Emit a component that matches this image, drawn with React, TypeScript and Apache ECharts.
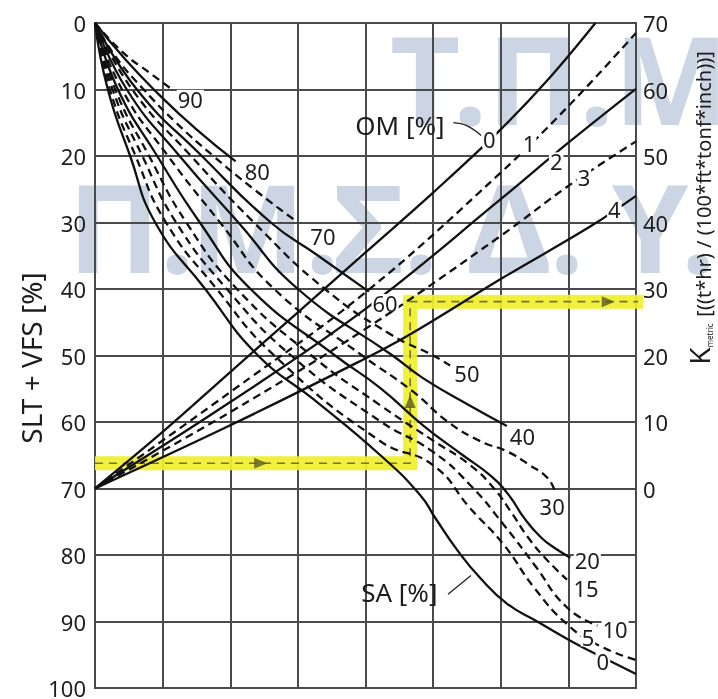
import React, { useEffect, useRef } from 'react';
import * as echarts from 'echarts';

// ---- SA curves (x: grid column 0..8, y: SLT+VFS %) ----
const SA_NAMES = ['90', '80', '70', '60', '50', '40', '30', '20', '15', '10', '5', '0'];
const SA_DASHED = [true, false, true, false, true, false, true, false, true, true, true, false];
const SA90 = [[0, 0], [0.42, 4.5], [0.81, 7.5], [1.14, 10]];
const SA80 = [[0, 0], [0.45, 5.5], [0.92, 10.5], [1.5, 16], [2.08, 20.8]];
const SA70 = [[0, 0], [0.3, 5], [0.72, 10], [1.2, 15], [1.75, 20], [2.35, 25], [3.0, 30]];
const SA60 = [[0, 0], [0.62, 10], [1.58, 20], [2.6, 30], [3.3, 35], [4.05, 40.4]];
const SA50 = [[0, 0], [0.55, 10], [1.42, 20], [2.35, 30], [3.4, 40], [4.4, 47], [5.0, 50], [5.25, 51.5]];
const SA40 = [[0, 0], [0.47, 10], [1.25, 20], [2.12, 30], [3.0, 40], [4.4, 50], [4.85, 53.4], [5.5, 57.3], [6.09, 60.6]];
const SA30 = [[0, 0], [0.4, 10], [1.08, 20], [1.85, 30], [2.65, 40], [3.95, 50], [4.7, 55.4], [5.21, 59.9], [5.7, 62.9], [6.09, 64.4], [6.43, 66.5], [6.69, 68.4], [6.8, 70.4]];
const SA20 = [[0, 0], [0.34, 10], [0.92, 20], [1.55, 30], [2.3, 40], [3.55, 50], [4.22, 54.9], [4.85, 60.5], [5.44, 65], [5.84, 68], [6.12, 71], [6.35, 74.5], [6.6, 77.4], [6.82, 79.1], [7.03, 80.4]];
const SA15 = [[0, 0], [0.3, 10], [0.8, 20], [1.35, 30], [2.1, 40], [3.2, 50], [4.22, 57.5], [5.0, 62.8], [5.55, 66.5], [5.9, 70], [6.15, 73.5], [6.4, 77.3], [6.68, 80.7], [6.98, 83.7]];
const SA10 = [[0, 0], [0.26, 10], [0.7, 20], [1.2, 30], [1.95, 40], [2.9, 50], [4.22, 59.9], [5.0, 64.5], [5.55, 69.5], [6.04, 75.4], [6.5, 81.5], [6.98, 87.9], [7.43, 90.6]];
const SA5 = [[0, 0], [0.22, 10], [0.6, 20], [1.05, 30], [1.8, 40], [2.65, 50], [4.22, 62.9], [5.0, 66.5], [5.55, 73], [6.04, 78.4], [6.5, 85], [6.98, 90.4], [7.43, 93.5], [8, 95.8]];
const SA0 = [[0, 0], [0.19, 10], [0.52, 20], [0.89, 30], [1.63, 40], [2.41, 50], [3.22, 56.5], [4.22, 65], [4.81, 71], [5.03, 74.4], [5.36, 79.3], [5.7, 83.5], [6.09, 87.3], [6.54, 90], [7.03, 92.9], [7.43, 95], [8, 97.9]];
const SA_CURVES = [SA90, SA80, SA70, SA60, SA50, SA40, SA30, SA20, SA15, SA10, SA5, SA0];

// ---- OM curves ----
const OM_NAMES = ['0', '1', '2', '3', '4'];
const OM_DASHED = [false, true, false, true, false];
const OM0 = [[0, 70], [1, 61.5], [2, 52.5], [3, 43.5], [4, 34.5], [5, 25.5], [6, 16], [6.7, 8.5], [7.4, 0]];
const OM1 = [[0, 70], [2, 55.5], [4, 40.5], [6, 22.5], [7, 12.5], [8, 1.5]];
const OM2 = [[0, 70], [2, 57], [4, 43], [6, 26.5], [7, 18], [8, 9.9]];
const OM3 = [[0, 70], [2, 58.5], [4, 46], [6, 32], [7, 24.5], [8, 17.8]];
const OM4 = [[0, 70], [2, 60.5], [3.89, 51], [4.63, 47], [6, 38.5], [7.34, 30.5], [8, 26]];
const OM_CURVES = [OM0, OM1, OM2, OM3, OM4];

// ---- labels on the curves ----
const SA_LABEL_POS = [[1.41, 11.4], [2.4, 22.3], [3.37, 32.0], [4.29, 42.1], [5.5, 52.7], [6.32, 62.1], [6.76, 72.6], [7.28, 80.7], [7.26, 85.0], [7.69, 91.2], [7.29, 92.4], [7.51, 96.0]];
const OM_LABEL_POS = [[5.83, 17.4], [6.42, 18.1], [6.82, 20.8], [7.23, 23.2], [7.68, 28.0]];
const GROUP_TITLES = [{ text: 'OM [%]', pos: [4.51, 15.4] }, { text: 'SA [%]', pos: [4.5, 85.6] }];
const OM_LEADER = [[5.3, 14.97], [5.49, 15.4], [5.71, 16.9]];
const SA_LEADER = [[5.22, 85.9], [5.56, 83.1]];

// ---- example reading path (highlight) ----
const HIGHLIGHT_PATH = [[0, 66.2], [4.66, 66.2], [4.66, 41.9], [8.77, 41.9]];
const ARROWS = [[2.45, 66.2, -90], [4.66, 56.9, 0], [7.59, 41.9, -90]];

// ---- watermark pieces ----
const WM_LINE1 = 'Τ.Π.Μ';
const WM_LINE2 = ['Π.', 'Μ.', 'Σ.', 'Δ.', 'Υ.'];
const WM_LINE2_X = [68, 190, 333, 468, 612];

// ---- axes ----
const LEFT_MIN = 0, LEFT_MAX = 100, LEFT_STEP = 10;
const RIGHT_MIN = -30, RIGHT_MAX = 70;
const X_MAX = 8;

const FONT = '"Noto Sans", "DejaVu Sans", sans-serif';
const INK = '#1e1c1c';
const GRID = '#4a4a4a';
const WATERMARK = '#cbd5e3';
const WM_FONT = 'bold 122px "Noto Sans", sans-serif';

export default function App() {
  const ref = useRef<HTMLDivElement>(null);
  useEffect(() => {
    if (!ref.current) return;
    const chart = echarts.init(ref.current, undefined, { renderer: 'svg' });

    const curveSeries: any[] = [];
    SA_CURVES.forEach((d, i) => {
      curveSeries.push({
        type: 'line', name: 'SA ' + SA_NAMES[i], data: d, showSymbol: false, symbol: 'none',
        smooth: 0.5, z: 5, silent: true,
        lineStyle: { color: '#111', width: 2.3, type: SA_DASHED[i] ? [8, 5] : 'solid' },
      });
    });
    OM_CURVES.forEach((d, i) => {
      curveSeries.push({
        type: 'line', name: 'OM ' + OM_NAMES[i], data: d, showSymbol: false, symbol: 'none',
        smooth: 0.4, z: 5, silent: true,
        lineStyle: { color: '#111', width: 2.3, type: OM_DASHED[i] ? [8, 5] : 'solid' },
      });
    });

    const labelData: any[] = [];
    SA_NAMES.forEach((n, i) => labelData.push({ value: SA_LABEL_POS[i], name: n }));
    OM_NAMES.forEach((n, i) => labelData.push({ value: OM_LABEL_POS[i], name: n }));
    GROUP_TITLES.forEach((t) => labelData.push({
      value: t.pos, name: t.text,
      label: { fontSize: 26, backgroundColor: 'transparent', padding: 0 },
    }));

    const wmStyle = (text: string) => ({
      text, font: WM_FONT, fill: WATERMARK,
      textAlign: 'left', textVerticalAlign: 'middle', align: 'left', verticalAlign: 'middle',
    });
    const watermark: any[] = [
      { type: 'text', x: 390, y: 78, z: -10, silent: true, style: wmStyle(WM_LINE1) },
      ...WM_LINE2.map((t, i) => ({ type: 'text', x: WM_LINE2_X[i], y: 226, z: -10, silent: true, style: wmStyle(t) })),
    ];

    chart.setOption({
      animation: false,
      textStyle: { fontFamily: FONT },
      grid: { left: 95, right: 82, top: 23, bottom: 8, show: true, borderColor: GRID, borderWidth: 2 },
      xAxis: {
        type: 'value', min: 0, max: X_MAX, interval: 1,
        axisLabel: { show: false }, axisTick: { show: false }, axisLine: { show: false },
        splitLine: { show: true, lineStyle: { color: GRID, width: 2 } },
      },
      yAxis: [
        {
          type: 'value', inverse: true, min: LEFT_MIN, max: LEFT_MAX, interval: LEFT_STEP,
          axisLabel: { fontSize: 22, color: INK, margin: 9, fontFamily: FONT },
          axisTick: { show: false }, axisLine: { show: false },
          splitLine: { show: true, lineStyle: { color: GRID, width: 2 } },
        },
        {
          type: 'value', position: 'right', min: RIGHT_MIN, max: RIGHT_MAX, interval: 10,
          axisLabel: {
            fontSize: 22, color: INK, margin: 7, fontFamily: FONT,
            formatter: (v: number) => (v < 0 ? '' : String(v)),
          },
          axisTick: { show: false }, axisLine: { show: false }, splitLine: { show: false },
        },
      ],
      graphic: [
        ...watermark,
        {
          type: 'text', x: 31, y: 358, rotation: Math.PI / 2, silent: true,
          style: { text: 'SLT + VFS [%]', font: '28px "Noto Sans", sans-serif', fill: INK, textAlign: 'center', textVerticalAlign: 'middle', align: 'center', verticalAlign: 'middle' },
        },
        {
          type: 'text', x: 698, y: 208, rotation: Math.PI / 2, silent: true,
          style: {
            text: '{k|K}{s|metric}  {m|[((t*hr) / (100*ft*tonf*inch))]}',
            fill: INK, textAlign: 'center', textVerticalAlign: 'middle', align: 'center', verticalAlign: 'middle',
            rich: {
              k: { fontSize: 28, fontFamily: FONT, fill: INK, lineHeight: 30, verticalAlign: 'bottom' },
              s: { fontSize: 8, fontFamily: FONT, fill: INK, lineHeight: 10, verticalAlign: 'bottom' },
              m: { fontSize: 20, fontFamily: FONT, fill: INK, lineHeight: 24, verticalAlign: 'bottom' },
            },
          },
        },
      ],
      series: [
        {
          type: 'line', data: HIGHLIGHT_PATH, symbol: 'none', clip: false, z: 1, silent: true,
          lineStyle: { color: 'rgba(240,240,45,0.92)', width: 14, cap: 'butt', join: 'miter' },
        },
        {
          type: 'line', data: HIGHLIGHT_PATH, symbol: 'none', clip: false, z: 2, silent: true,
          lineStyle: { color: 'rgba(95,92,45,0.85)', width: 1.6, type: [8, 6] },
        },
        ...curveSeries,
        {
          type: 'line', data: OM_LEADER, symbol: 'none', smooth: 0.4, z: 5, silent: true,
          lineStyle: { color: '#222', width: 1.3 },
        },
        {
          type: 'line', data: SA_LEADER, symbol: 'none', z: 5, silent: true,
          lineStyle: { color: '#222', width: 1.3 },
        },
        {
          type: 'scatter', z: 6, silent: true, symbol: 'triangle', symbolSize: [11, 13], clip: false,
          itemStyle: { color: '#5e5b22' },
          data: ARROWS.map((a) => ({ value: [a[0], a[1]], symbolRotate: a[2] })),
        },
        {
          type: 'scatter', z: 8, silent: true, symbolSize: 0, clip: false,
          itemStyle: { color: INK, opacity: 1 },
          label: {
            show: true, position: [0, 0], align: 'center', verticalAlign: 'middle',
            formatter: '{b}', fontSize: 22, color: INK, textBorderWidth: 0,
            fontFamily: FONT, backgroundColor: '#fff', padding: [0, 1], lineHeight: 18,
          },
          data: labelData,
        },
      ],
    });
    return () => chart.dispose();
  }, []);
  return <div ref={ref} style={{ position: 'fixed', left: 0, top: 0, width: 718, height: 699 }} />;
}
